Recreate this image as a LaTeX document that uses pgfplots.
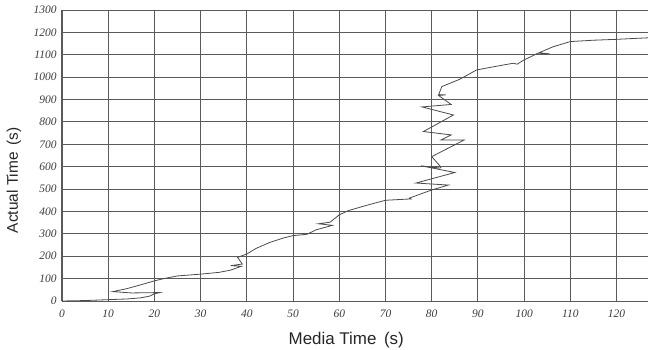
\documentclass[border=0pt]{standalone}
\usepackage{fontspec}
\setmainfont{Liberation Serif}
\newfontfamily\lsans{Liberation Sans}
\usepackage{pgfplots}
\pgfplotsset{compat=1.18}
\definecolor{gridc}{RGB}{90,90,90}
\definecolor{linec}{RGB}{75,75,75}
\definecolor{tickc}{RGB}{60,60,60}
\begin{document}
\begin{tikzpicture}
\begin{axis}[
  at={(0,0)}, anchor=south west,
  scale only axis, width=586bp, height=291bp,
  xmin=0, xmax=126.8, ymin=0, ymax=1300,
  xtick={0,10,...,120}, ytick={0,100,...,1300},
  grid=major,
  major grid style={gridc, line width=0.9bp},
  axis x line*=bottom, axis y line*=left,
  axis line style={gridc, line width=1bp, -},
  major tick length=0pt,
  /pgf/number format/assume math mode=true,
  /pgf/number format/1000 sep={},
  ticklabel style={font=\fontsize{11.5}{13}\selectfont\itshape, text=tickc},
  yticklabel style={xshift=-2bp},
  xticklabel style={yshift=-5bp},
  xlabel={\lsans Media Time\ \,(s)},
  ylabel={\lsans Actual Time\ \,(s)},
  xlabel style={font=\fontsize{17}{20}\selectfont, text=black!85, at={(axis description cs:0.485,-0.134)}, anchor=center},
  ylabel style={font=\fontsize{15.5}{18}\selectfont, text=black!85, at={(axis description cs:-0.082,0.415)}, anchor=center},
  clip=true,
]
\addplot[linec, line width=0.8bp, mark=none] coordinates {
(0,0) (5,2) (10,6) (14,9) (17,14) (19,22) (20,32) (21.2,38) (19,37) (15,36)
(11,42) (14,55) (17,72) (20,90) (22,100) (25,112) (30,120) (34,128) (36.5,138)
(38.8,155) (36.5,158) (39,165) (38,195) (40,210) (42,235) (45,262) (48,282)
(50,292) (53,298) (55,318) (58.5,338) (55.5,345) (58,352) (60,385) (62,404)
(66,428) (70,450) (75.5,456) (75.2,460) (80,496) (83.6,518) (76.6,527)
(85,574) (77.7,604) (81.8,594) (82,598) (80,645) (87,719) (82,719) (84.2,742)
(78.2,757) (84.7,831) (77.9,867) (84.2,878) (81.5,918) (83,921) (81.5,922)
(82.2,958) (86,990) (89.7,1032) (93,1045) (97.6,1062) (98.5,1058) (99.8,1075)
(103,1107) (105.5,1104) (103.2,1109) (106.3,1136) (110,1159) (115,1165)
(120,1169) (127,1176)
};
\end{axis}
\pgfresetboundingbox
\useasboundingbox (-62bp,-49bp) rectangle (586bp,301bp);
\end{tikzpicture}
\end{document}
